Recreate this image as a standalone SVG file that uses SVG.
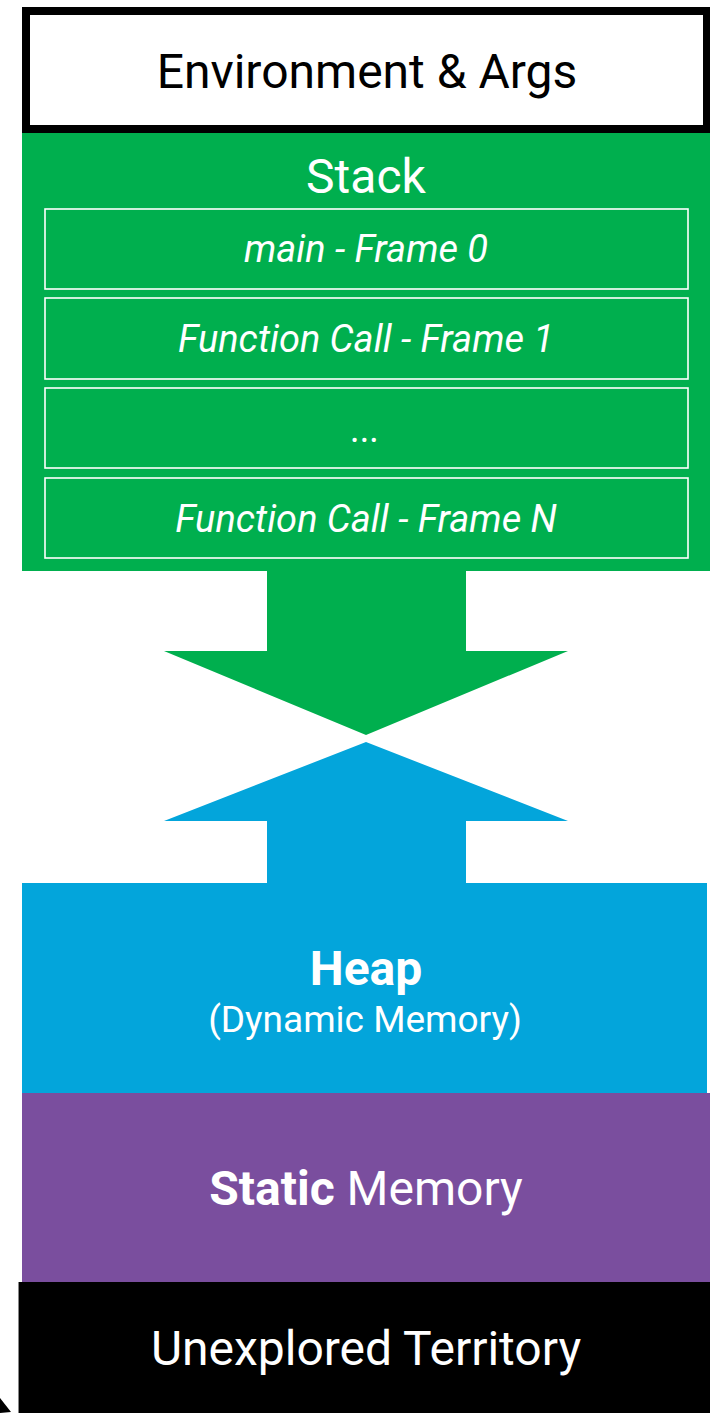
<svg xmlns="http://www.w3.org/2000/svg" width="710" height="1413" viewBox="0 0 710 1413">
<style>
text{font-family:Roboto,"Liberation Sans",sans-serif;text-anchor:middle}
.w{fill:#fff}
.big{font-size:48px}
.it{font-style:italic;font-size:38px}
.frame{fill:none;stroke:#fff;stroke-width:1.6}
</style>
<rect width="710" height="1413" fill="#fff"/>
<g id="env">
<rect x="26" y="11" width="681" height="118" fill="#fff" stroke="#000" stroke-width="8"/>
<text class="big" x="367" y="88">Environment &amp; Args</text>
</g>
<g id="stack">
<rect x="22" y="133" width="688" height="438" fill="#00AF4E"/>
<text class="w big" x="366" y="193">Stack</text>
</g>
<g id="frame0">
<rect class="frame" x="45" y="209" width="643" height="80"/>
<text class="w it" x="366" y="262">main - Frame 0</text>
</g>
<g id="frame1">
<rect class="frame" x="45" y="298" width="643" height="81"/>
<text class="w it" x="366" y="352">Function Call - Frame 1</text>
</g>
<g id="frameDots">
<rect class="frame" x="45" y="388" width="643" height="80"/>
<text class="w it" x="366" y="442">...</text>
</g>
<g id="frameN">
<rect class="frame" x="45" y="478" width="643" height="80"/>
<text class="w it" x="366" y="532">Function Call - Frame N</text>
</g>
<g id="connectors">
<polygon points="267,571 466,571 466,651 568,651 366,735 164,651 267,651" fill="#00AF4E"/>
<polygon points="366,742 568,821 466,821 466,884 267,884 267,821 164,821" fill="#03A5DB"/>
</g>
<g id="heap">
<rect x="22" y="883" width="685" height="210" fill="#03A5DB"/>
<text class="w big" x="366" y="985" font-weight="bold">Heap</text>
<text class="w" x="365" y="1032" font-size="37">(Dynamic Memory)</text>
</g>
<g id="static">
<rect x="22" y="1093" width="688" height="190" fill="#7A4E9E"/>
<text class="w big" x="366" y="1205"><tspan font-weight="bold">Static</tspan> Memory</text>
</g>
<g id="unexplored">
<rect x="18" y="1282" width="692" height="131" fill="#000"/>
<line x1="18.5" y1="1282" x2="18.5" y2="1413" stroke="#888" stroke-width="1"/>
<text class="w big" x="366" y="1365">Unexplored Territory</text>
</g>
<polygon points="0,1398 11,1412 0,1413" fill="#000"/>
</svg>
